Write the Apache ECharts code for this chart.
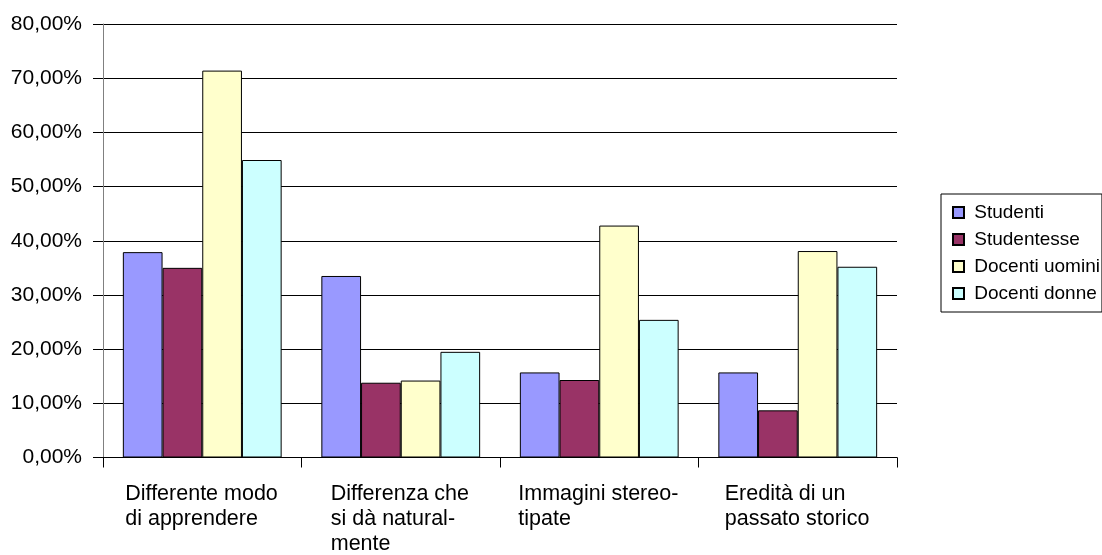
<!DOCTYPE html>
<html>
<head>
<meta charset="utf-8">
<script src="https://cdn.jsdelivr.net/npm/echarts@6/dist/echarts.min.js"></script>
<style>
  html, body { margin: 0; padding: 0; background: #fff; }
  #chart { width: 1102px; height: 555px; }
</style>
</head>
<body>
<div id="chart"></div>
<script>
// Categories (motivi della differenza) and percentages per group
const categories = [
  'Differente modo\ndi apprendere',
  'Differenza che\nsi dà natural-\nmente',
  'Immagini stereo-\ntipate',
  'Eredità di un\npassato storico'
];
const seriesNames = ['Studenti', 'Studentesse', 'Docenti uomini', 'Docenti donne'];
const studenti      = [37.9, 33.5, 15.7, 15.7];
const studentesse   = [35.0, 13.8, 14.3, 8.7];
const docentiUomini = [71.4, 14.2, 42.8, 38.1];
const docentiDonne  = [54.9, 19.5, 25.4, 35.2];
const yTicks = { min: 0, max: 80, step: 10 };

const colors = ['#9999FF', '#993366', '#FFFFCC', '#CCFFFF'];
const values = [studenti, studentesse, docentiUomini, docentiDonne];
const FONT = '"Liberation Sans", Arial, sans-serif';
const AXIS_FONT_SIZE = 21;
const CAT_FONT_SIZE = 21.5;

// Each category label is a block as wide as its longest line, centred under
// the category, with its lines left-aligned inside the block.
const measureCtx = document.createElement('canvas').getContext('2d');
measureCtx.font = CAT_FONT_SIZE + 'px ' + FONT;
const labelRich = {};
categories.forEach((c, i) => {
  const w = Math.max(...c.split('\n').map(l => measureCtx.measureText(l).width));
  labelRich['c' + i] = {
    width: Math.ceil(w) + 1, align: 'left',
    fontSize: CAT_FONT_SIZE, lineHeight: 25, fontFamily: FONT, color: '#000'
  };
});

const chart = echarts.init(document.getElementById('chart'), null, { renderer: 'canvas' });

chart.setOption({
  backgroundColor: '#ffffff',
  animation: false,
  textStyle: { fontFamily: FONT, color: '#000' },
  grid: { left: 103, right: 205, top: 24, bottom: 97, containLabel: false },
  legend: {
    orient: 'vertical',
    left: 941,
    top: 194,
    padding: [9, 2, 9, 11],
    itemGap: 8,
    itemWidth: 11,
    itemHeight: 11,
    icon: 'rect',
    borderColor: '#000',
    borderWidth: 1,
    formatter: name => ' ' + name,
    textStyle: { fontFamily: FONT, fontSize: 19, lineHeight: 19, color: '#000' },
    data: seriesNames
  },
  xAxis: {
    type: 'category',
    data: categories,
    axisLine: { lineStyle: { color: '#000', width: 1 } },
    axisTick: { show: true, length: 10, lineStyle: { color: '#000' } },
    axisLabel: {
      interval: 0,
      margin: 24,
      formatter: (v, idx) => v.split('\n').map(l => '{c' + idx + '|' + l + '}').join('\n'),
      rich: labelRich
    }
  },
  yAxis: {
    type: 'value',
    min: yTicks.min,
    max: yTicks.max,
    interval: yTicks.step,
    axisLine: { show: true, lineStyle: { color: '#808080', width: 1 } },
    axisTick: { show: true, inside: false, length: 10, lineStyle: { color: '#000' } },
    axisLabel: {
      margin: 21,
      fontSize: AXIS_FONT_SIZE,
      fontFamily: FONT,
      color: '#000',
      formatter: v => v.toFixed(2).replace('.', ',') + '%'
    },
    splitLine: { show: true, lineStyle: { color: '#000', width: 1 } }
  },
  series: seriesNames.map((name, i) => ({
    name: name,
    type: 'bar',
    data: values[i],
    barGap: '0%',
    barCategoryGap: '20%',
    itemStyle: { color: colors[i], borderColor: '#000', borderWidth: 1 }
  }))
});
</script>
</body>
</html>
